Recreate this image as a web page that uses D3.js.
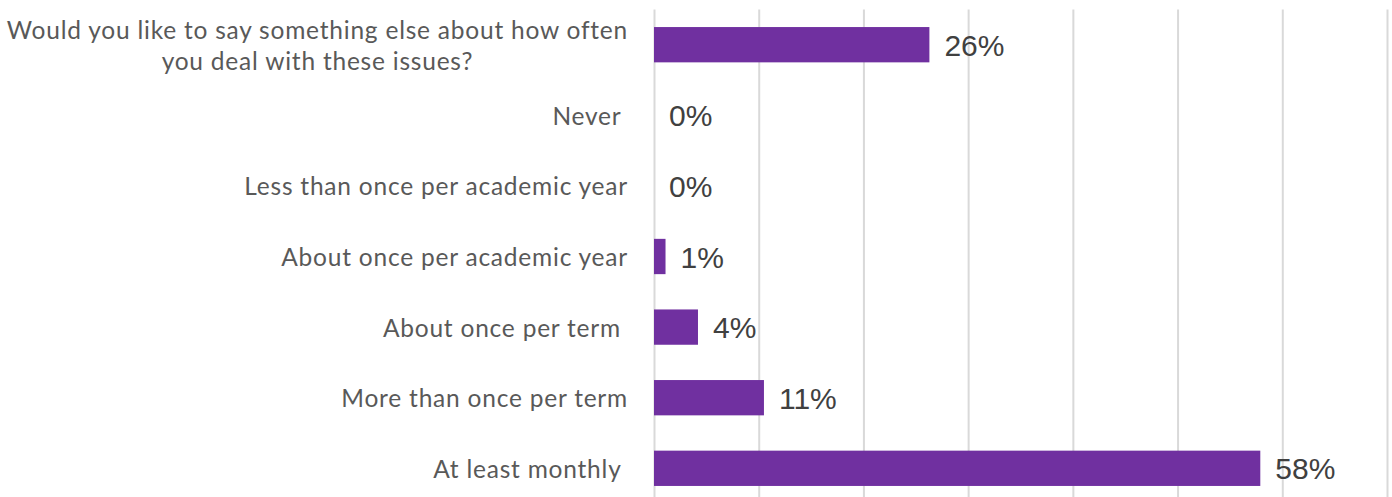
<!DOCTYPE html>
<html>
<head>
<meta charset="utf-8">
<script src="https://cdn.jsdelivr.net/npm/d3@7"></script>
<style>
  html, body { margin: 0; padding: 0; background: #ffffff; }
  svg { display: block; }
</style>
</head>
<body>
<svg id="chart" width="1392" height="497"></svg>
<script>
// ---- data ----
const categories = [
  "Would you like to say something else about how often\nyou deal with these issues?",
  "Never ",
  "Less than once per academic year",
  "About once per academic year",
  "About once per term ",
  "More than once per term",
  "At least monthly "
];
const values = [26.3, 0, 0, 1.1, 4.2, 10.5, 57.9];
const valueLabels = ["26%", "0%", "0%", "1%", "4%", "11%", "58%"];
const xTicks = [0, 10, 20, 30, 40, 50, 60, 70];

// ---- layout ----
const W = 1392, H = 497;
const plot = { left: 654, right: 1387, top: 9.4, bottom: 503.6 };

const svg = d3.select("#chart");

const x = d3.scaleLinear().domain([0, 70]).range([plot.left, plot.right]);
const y = d3.scaleBand().domain(categories).range([plot.top, plot.bottom])
  .paddingInner(0.5).paddingOuter(0.25);

// gridlines
const grid = svg.append("g")
  .attr("transform", `translate(0,${plot.top})`)
  .call(d3.axisBottom(x).tickValues(xTicks).tickSize(plot.bottom - plot.top).tickFormat(""));
grid.select(".domain").remove();
grid.selectAll(".tick line").attr("stroke", "#d9d9d9").attr("stroke-width", 2);

// bars
svg.append("g").selectAll("rect")
  .data(categories)
  .join("rect")
  .attr("x", x(0))
  .attr("y", d => y(d))
  .attr("width", (d, i) => x(values[i]) - x(0))
  .attr("height", y.bandwidth())
  .attr("fill", "#7030a0");

// value labels
svg.append("g").selectAll("text")
  .data(categories)
  .join("text")
  .attr("x", (d, i) => x(values[i]) + 15)
  .attr("y", d => y(d) + y.bandwidth() / 2 + 11)
  .attr("font-family", "'Liberation Sans', Arial, sans-serif")
  .attr("font-size", 30)
  .attr("fill", "#404040")
  .text((d, i) => valueLabels[i]);

// category labels
const labelRight = 628;
const lineH = 31;
const catG = svg.append("g")
  .attr("font-family", "Lato, 'Open Sans', sans-serif")
  .attr("font-size", 24.5)
  .attr("letter-spacing", 0.78)
  .attr("fill", "#595959");

categories.forEach(c => {
  const lines = c.split("\n");
  const cy = y(c) + y.bandwidth() / 2;
  const t = catG.append("text")
    .style("white-space", "pre")
    .attr("dominant-baseline", "central");
  if (lines.length === 1) {
    t.attr("x", labelRight).attr("y", cy).attr("text-anchor", "end").text(lines[0]);
  } else {
    // multi-line: lines centred on each other, block right-aligned
    const tmp = lines.map((l, i) =>
      t.append("tspan").attr("y", cy + (i - (lines.length - 1) / 2) * lineH).text(l));
    const widths = tmp.map(s => s.node().getComputedTextLength());
    const maxW = Math.max(...widths);
    const centre = labelRight - maxW / 2;
    tmp.forEach(s => s.attr("x", centre).attr("text-anchor", "middle"));
  }
});
</script>
</body>
</html>
